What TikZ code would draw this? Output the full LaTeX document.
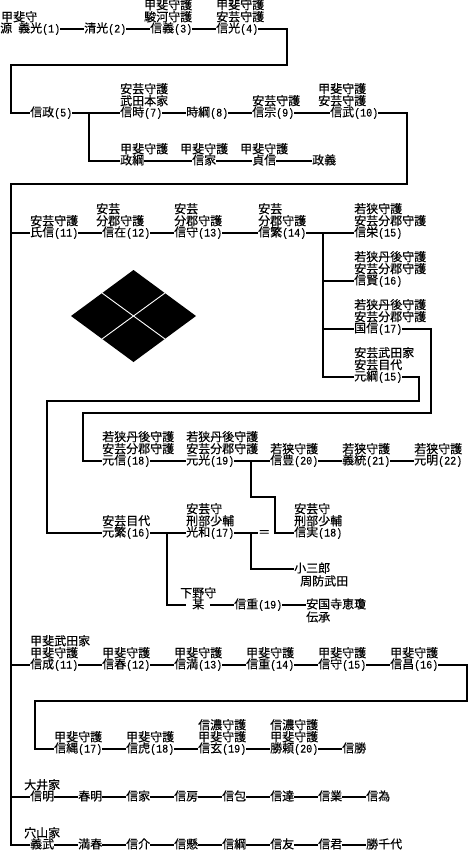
\documentclass[tikz,border=0pt]{standalone}
\usepackage{fontspec}
\setmainfont[FakeBold=0.25]{Noto Sans CJK JP}
\newfontfamily\hwfont[FakeStretch=0.87,FakeBold=0.2]{Liberation Mono}
\newcommand{\hw}[1]{{\fontsize{11.5}{12}\selectfont\hwfont #1}}
\tikzset{
  nm/.style={anchor=west,inner sep=0pt,text height=9.5pt,text depth=2.5pt,font=\fontsize{12}{12}\selectfont},
  ttl/.style={anchor=south west,inner sep=0pt,align=left,font=\fontsize{12}{12}\selectfont},
  ln/.style={line width=1.9pt,line join=miter,draw=black}
}
\newcommand{\pn}[4]{\node[nm] (#1) at (#2,#3) {#4};}
\newcommand{\tn}[4]{\node[ttl] (t#1) at (#2,#3-6.5) {#4};}
\begin{document}
\begin{tikzpicture}[x=1pt,y=-1pt]
\useasboundingbox (0,0) rectangle (474,864);
% row 1
\pn{a1}{0}{29}{源\hspace{6pt}義光\hw{(1)}}\tn{a1}{1}{29}{甲斐守}
\pn{a2}{84}{29}{清光\hw{(2)}}
\pn{a3}{150}{29}{信義\hw{(3)}}\tn{a3}{144}{29}{甲斐守護\\駿河守護}
\pn{a4}{216}{29}{信光\hw{(4)}}\tn{a4}{216}{29}{甲斐守護\\安芸守護}
% row 2
\pn{b5}{30}{113}{信政\hw{(5)}}
\pn{b7}{120}{113}{信時\hw{(7)}}\tn{b7}{120}{113}{安芸守護\\武田本家}
\pn{b8}{186}{113}{時綱\hw{(8)}}
\pn{b9}{252}{113}{信宗\hw{(9)}}\tn{b9}{252}{113}{安芸守護}
\pn{b10}{330}{113}{信武\hw{(10)}}\tn{b10}{318}{113}{甲斐守護\\安芸守護}
% row 3
\pn{c1}{120}{161}{政綱}\tn{c1}{120}{161}{甲斐守護}
\pn{c2}{192}{161}{信家}\tn{c2}{180}{161}{甲斐守護}
\pn{c3}{252}{161}{貞信}\tn{c3}{240}{161}{甲斐守護}
\pn{c4}{312}{161}{政義}
% row 4
\pn{d11}{30}{233}{氏信\hw{(11)}}\tn{d11}{30}{233}{安芸守護}
\pn{d12}{102}{233}{信在\hw{(12)}}\tn{d12}{96}{233}{安芸\\分郡守護}
\pn{d13}{174}{233}{信守\hw{(13)}}\tn{d13}{174}{233}{安芸\\分郡守護}
\pn{d14}{258}{233}{信繁\hw{(14)}}\tn{d14}{258}{233}{安芸\\分郡守護}
\pn{e15}{354}{233}{信栄\hw{(15)}}\tn{e15}{354}{233}{若狭守護\\安芸分郡守護}
\pn{e16}{354}{281}{信賢\hw{(16)}}\tn{e16}{354}{281}{若狭丹後守護\\安芸分郡守護}
\pn{e17}{354}{329}{国信\hw{(17)}}\tn{e17}{354}{329}{若狭丹後守護\\安芸分郡守護}
\pn{e18}{354}{377}{元綱\hw{(15)}}\tn{e18}{354}{377}{安芸武田家\\安芸目代}
% row 5
\pn{f18}{102}{461}{元信\hw{(18)}}\tn{f18}{102}{461}{若狭丹後守護\\安芸分郡守護}
\pn{f19}{186}{461}{元光\hw{(19)}}\tn{f19}{186}{461}{若狭丹後守護\\安芸分郡守護}
\pn{f20}{270}{461}{信豊\hw{(20)}}\tn{f20}{270}{461}{若狭守護}
\pn{f21}{342}{461}{義統\hw{(21)}}\tn{f21}{342}{461}{若狭守護}
\pn{f22}{414}{461}{元明\hw{(22)}}\tn{f22}{414}{461}{若狭守護}
% row 6
\pn{g16}{102}{533}{元繁\hw{(16)}}\tn{g16}{102}{533}{安芸目代}
\pn{g17}{186}{533}{光和\hw{(17)}}\tn{g17}{186}{533}{安芸守\\刑部少輔}
\pn{geq}{258}{533}{＝}
\pn{g18}{294}{533}{信実\hw{(18)}}\tn{g18}{294}{533}{安芸守\\刑部少輔}
\pn{h1}{294}{569}{小三郎}
\pn{h2}{300}{582}{周防武田}
\node[nm,minimum width=24pt,align=center] (i1) at (186,605) {某};\tn{i1}{180}{605}{下野守}
\pn{i2}{234}{605}{信重\hw{(19)}}
\pn{i3}{306}{605}{安国寺恵瓊}
\pn{i4}{306}{618}{伝承}
% row 7
\pn{j11}{30}{665}{信成\hw{(11)}}\tn{j11}{30}{665}{甲斐武田家\\甲斐守護}
\pn{j12}{102}{665}{信春\hw{(12)}}\tn{j12}{102}{665}{甲斐守護}
\pn{j13}{174}{665}{信満\hw{(13)}}\tn{j13}{174}{665}{甲斐守護}
\pn{j14}{246}{665}{信重\hw{(14)}}\tn{j14}{246}{665}{甲斐守護}
\pn{j15}{318}{665}{信守\hw{(15)}}\tn{j15}{318}{665}{甲斐守護}
\pn{j16}{390}{665}{信昌\hw{(16)}}\tn{j16}{390}{665}{甲斐守護}
% row 8
\pn{k17}{54}{749}{信縄\hw{(17)}}\tn{k17}{54}{749}{甲斐守護}
\pn{k18}{126}{749}{信虎\hw{(18)}}\tn{k18}{126}{749}{甲斐守護}
\pn{k19}{198}{749}{信玄\hw{(19)}}\tn{k19}{198}{749}{信濃守護\\甲斐守護}
\pn{k20}{270}{749}{勝頼\hw{(20)}}\tn{k20}{270}{749}{信濃守護\\甲斐守護}
\pn{k21}{342}{749}{信勝}
% row 9
\pn{m1}{30}{797}{信明}\tn{m1}{24}{797}{大井家}
\pn{m2}{78}{797}{春明}
\pn{m3}{126}{797}{信家}
\pn{m4}{174}{797}{信房}
\pn{m5}{222}{797}{信包}
\pn{m6}{270}{797}{信達}
\pn{m7}{318}{797}{信業}
\pn{m8}{366}{797}{信為}
% row 10
\pn{p1}{30}{845}{義武}\tn{p1}{24}{845}{穴山家}
\pn{p2}{78}{845}{満春}
\pn{p3}{126}{845}{信介}
\pn{p4}{174}{845}{信懸}
\pn{p5}{222}{845}{信綱}
\pn{p6}{270}{845}{信友}
\pn{p7}{318}{845}{信君}
\pn{p8}{366}{845}{勝千代}
% chains
\foreach \u/\v in {a1/a2,a2/a3,a3/a4,b5/b7,b7/b8,b8/b9,b9/b10,c1/c2,c2/c3,c3/c4,
  d11/d12,d12/d13,d13/d14,d14/e15,f18/f19,f19/f20,f20/f21,f21/f22,g16/g17,i1/i2,i2/i3,
  j11/j12,j12/j13,j13/j14,j14/j15,j15/j16,k17/k18,k18/k19,k19/k20,k20/k21,
  m1/m2,m2/m3,m3/m4,m4/m5,m5/m6,m6/m7,m7/m8,p1/p2,p2/p3,p3/p4,p4/p5,p5/p6,p6/p7,p7/p8}
  {\draw[ln] (\u.east) -- (\v.west);}
% long runs
\draw[ln] (a4.east) -| (287,65) -| (11,113) -- (b5.west);
\coordinate (brb) at (89,113);
\draw[ln] (brb) |- (c1.west);
\draw[ln] (b10.east) -| (407,184) -| (11,845) -- (p1.west);
\coordinate (tr1) at (11,233);
\coordinate (tr2) at (11,665);
\coordinate (tr3) at (11,797);
\draw[ln] (tr1) -- (d11.west);
\draw[ln] (tr2) -- (j11.west);
\draw[ln] (tr3) -- (m1.west);
\draw[ln] (j16.east) -| (467,701) -| (35,749) -- (k17.west);
\coordinate (bre) at (323,233);
\draw[ln] (bre) |- (e18.west);
\draw[ln] (323,281) -- (e16.west);
\draw[ln] (323,329) -- (e17.west);
\draw[ln] (e17.east) -| (431,413) -| (83,461) -- (f18.west);
\draw[ln] (e18.east) -| (419,401) -| (47,533) -- (g16.west);
\coordinate (brf) at (251,461);
\draw[ln] (brf) |- (275,497) |- (g18.west);
\coordinate (brg) at (167,533);
\draw[ln] (brg) |- (i1.west);
\draw[ln] (g17.east) -- (geq.west);
\coordinate (brh) at (251,533);
\draw[ln] (brh) |- (h1.west);
% crest
\fill[black] (133.5,270) -- (196,316) -- (133.5,362) -- (71,316) -- cycle;
\draw[white,line width=0.9pt] (102,293) -- (165,339);
\draw[white,line width=0.9pt] (165,293) -- (102,339);
\end{tikzpicture}
\end{document}
